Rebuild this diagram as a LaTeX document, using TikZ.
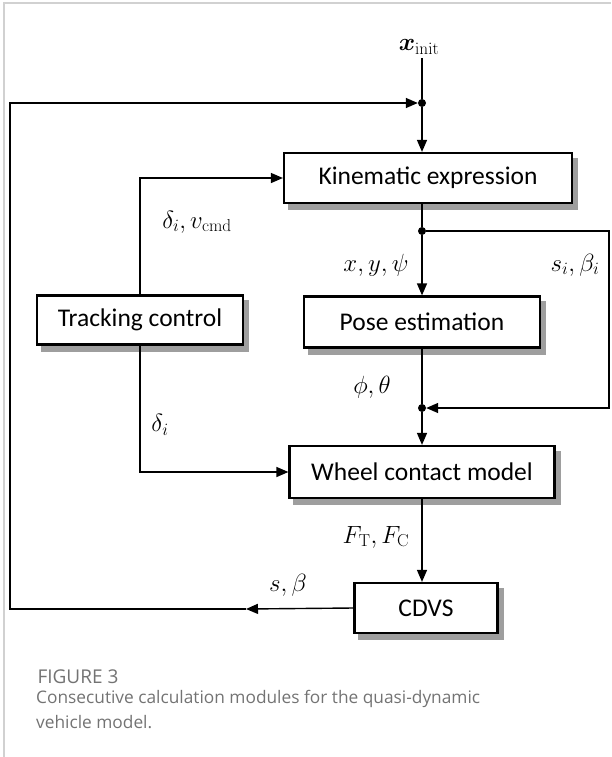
\documentclass[tikz,border=0pt]{standalone}
\usepackage{amsmath,amssymb,bm}
\usepackage[no-math]{fontspec}
\setmainfont{Carlito}
\newfontfamily\capfont{Open Sans}
\usetikzlibrary{arrows.meta,backgrounds}

\begin{document}
\begin{tikzpicture}[x=1pt, y=-1pt,
    module/.style={draw, line width=2.2pt, fill=white, inner sep=0pt,
        font=\fontsize{25.5}{28}\selectfont},
    boxshadow/.style={fill=black!38},
    junction/.style={circle, fill=black, inner sep=0pt, minimum size=8pt},
    signal/.style={line width=1.4pt},
    flow/.style={signal, -{Triangle[length=12pt,width=10pt]}},
    varlabel/.style={font=\fontsize{26}{28}\selectfont},
    captiontext/.style={text=black!55, align=left},
    frame/.style={line width=1.5pt, black!18}
]
\useasboundingbox (0,0) rectangle (611,757);

% page frame
\draw[frame] (4,757) -- (4,3) -- (611,3);

% Modules
\node[module, minimum width=288pt, minimum height=50pt] (kin) at (428,178) {Kinematic expression};
\node[module, minimum width=206pt, minimum height=49pt] (track) at (140,320) {Tracking control};
\node[module, minimum width=236pt, minimum height=51pt] (pose) at (422,322) {Pose estimation};
\node[module, minimum width=265pt, minimum height=52pt] (wheel) at (422,472) {Wheel contact model};
\node[module, minimum width=143pt, minimum height=50pt] (cdvs) at (426,608) {CDVS};

% Shadows behind the modules
\begin{scope}[on background layer]
  \foreach \m in {kin,track,pose,wheel,cdvs}
    \fill[boxshadow] ([shift={(5,6)}]\m.south west) rectangle ([shift={(5,6)}]\m.north east);
\end{scope}

% Junctions
\node[junction] (dot0) at (422,103) {};
\node[junction] (dot1) at (422,231) {};
\node[junction] (dot2) at (422,408) {};
\coordinate (cR1) at (609,231);
\coordinate (cL) at (10,609);
\coordinate (ret) at (246,609);

% Signal labels
\node[varlabel] (xinit) at (419,47) {$\boldsymbol{x}_{\mathrm{init}}$};
\node[varlabel] (cmd) at (197,222) {$\delta_i,v_{\mathrm{cmd}}$};
\node[varlabel] (pos) at (376,265) {$x,y,\psi$};
\node[varlabel] (slip) at (575,265) {$s_i,\beta_i$};
\node[varlabel] (att) at (372,387) {$\phi,\theta$};
\node[varlabel] (steer) at (160,425) {$\delta_i$};
\node[varlabel] (force) at (376,537) {$F_{\mathrm{T}},F_{\mathrm{C}}$};
\node[varlabel] (sb) at (288,585) {$s,\beta$};

% Main chain
\draw[signal] (xinit.south -| dot0) -- (dot0);
\draw[flow] (dot0) -- (dot0 |- kin.north);
\draw[signal] (dot1 |- kin.south) -- (dot1);
\draw[flow] (dot1) -- (dot1 |- pose.north);
\draw[flow] (dot1) -- (cR1) |- (dot2);
\draw[signal] (dot2 |- pose.south) -- (dot2);
\draw[flow] (dot2) -- (dot2 |- wheel.north);
\draw[flow] (wheel.south) -- (wheel.south |- cdvs.north);

% Tracking control
\draw[flow] (track.north) |- (kin.west);
\draw[flow] (track.south) |- (wheel.west);

% Feedback loop
\draw[flow] (cdvs.west) -- (ret);
\draw[flow] (ret) -- (cL) |- (dot0);

% Caption
\node[captiontext, font=\capfont\fontsize{19}{22}\selectfont, anchor=west] (fig) at (34,677) {FIGURE 3};
\node[captiontext, font=\capfont\fontsize{17.3}{25}\selectfont, anchor=north west, inner sep=0pt] (cap) at (36,690)
  {Consecutive calculation modules for the quasi-dynamic\\vehicle model.};

\end{tikzpicture}
\end{document}
